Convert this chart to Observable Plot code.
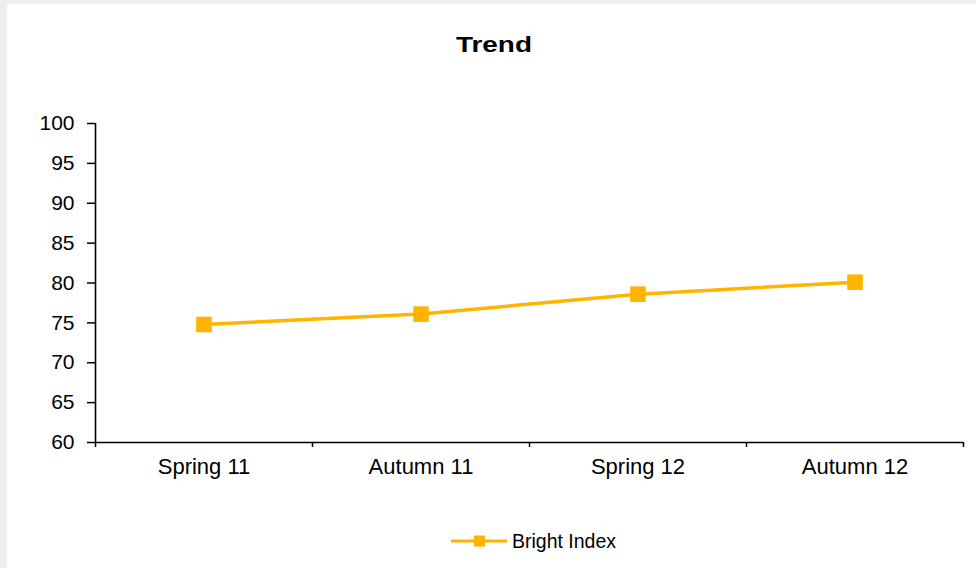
<!DOCTYPE html>
<html>
<head>
<meta charset="utf-8">
<script src="https://cdn.jsdelivr.net/npm/d3@7"></script>
<script src="https://cdn.jsdelivr.net/npm/@observablehq/plot@0.6"></script>
<style>
  html, body { margin: 0; padding: 0; background: #eeeeee; }
  body { width: 976px; height: 568px; position: relative; overflow: hidden;
         font-family: "Liberation Sans", Arial, sans-serif; color: #000; }
  #card { position: absolute; left: 7px; top: 4px; width: 969px; height: 564px; background: #fff; }
  #title { position: absolute; left: 2px; top: 30px; width: 100%; text-align: center;
           font-weight: bold; font-size: 22px; line-height: 22px; }
  #title span { display: inline-block; transform: scaleX(1.27); transform-origin: center; }
  #chart { position: absolute; left: 0; top: 80px; }
  #legend { position: absolute; left: 444px; top: 522px; display: flex; align-items: center;
            font-size: 19.5px; line-height: 30px; }
  #legend svg { display: block; margin-right: 3px; }
</style>
</head>
<body>
<div id="card">
  <div id="title"><span>Trend</span></div>
  <div id="chart"></div>
  <div id="legend"></div>
</div>
<script>
// Survey waves and the index measured at each one
const seasons = ["Spring 11", "Autumn 11", "Spring 12", "Autumn 12"];
const brightIndex = [74.8, 76.1, 78.6, 80.1];
const yTicks = [60, 65, 70, 75, 80, 85, 90, 95, 100];
const seriesName = "Bright Index";
const seriesColor = "#ffb400";

// Each season sits in the middle of its slot; slot edges carry the x ticks
const rows = seasons.map((season, i) => ({season, slot: i + 0.5, value: brightIndex[i]}));
const slotEdges = d3.range(seasons.length + 1);
const slotCenters = rows.map(d => d.slot);

const chart = Plot.plot({
  width: 969,
  height: 416,
  marginLeft: 88,
  marginRight: 13,
  marginTop: 39,
  marginBottom: 58,
  style: {fontFamily: '"Liberation Sans", Arial, sans-serif', fontSize: "21px", color: "#000", background: "#fff", overflow: "visible"},
  x: {domain: [0, seasons.length], axis: null, label: null},
  y: {domain: [60, 100], axis: null, label: null},
  marks: [
    Plot.axisY({ticks: yTicks, tickSize: 8, tickPadding: 13, strokeWidth: 1.5, label: null, fontSize: 21}),
    Plot.ruleX([0], {stroke: "#000", strokeWidth: 1.6}),
    Plot.ruleY([60], {stroke: "#000", strokeWidth: 1.6}),
    Plot.axisX({ticks: slotEdges, tickSize: 5, strokeWidth: 1.5, tickFormat: () => "", label: null}),
    Plot.axisX({ticks: slotCenters, tickSize: 0, tickPadding: 16, label: null, fontSize: 22,
                tickFormat: d => seasons[Math.floor(d)]}),
    Plot.line(rows, {x: "slot", y: "value", stroke: seriesColor, strokeWidth: 3.5}),
    Plot.dot(rows, {x: "slot", y: "value", symbol: "square", r: 8.8, fill: seriesColor, stroke: "none"})
  ]
});
document.getElementById("chart").append(chart);

// Legend: line-with-marker swatch followed by the series name
const legend = document.getElementById("legend");
const ns = "http://www.w3.org/2000/svg";
const sw = document.createElementNS(ns, "svg");
sw.setAttribute("width", "58");
sw.setAttribute("height", "14");
const ln = document.createElementNS(ns, "line");
ln.setAttribute("x1", "0"); ln.setAttribute("x2", "56");
ln.setAttribute("y1", "7"); ln.setAttribute("y2", "7");
ln.setAttribute("stroke", seriesColor); ln.setAttribute("stroke-width", "3");
const sq = document.createElementNS(ns, "rect");
sq.setAttribute("x", "23"); sq.setAttribute("y", "1.5");
sq.setAttribute("width", "11"); sq.setAttribute("height", "11");
sq.setAttribute("fill", seriesColor);
sw.append(ln, sq);
const label = document.createElement("span");
label.textContent = seriesName;
legend.append(sw, label);
</script>
</body>
</html>
